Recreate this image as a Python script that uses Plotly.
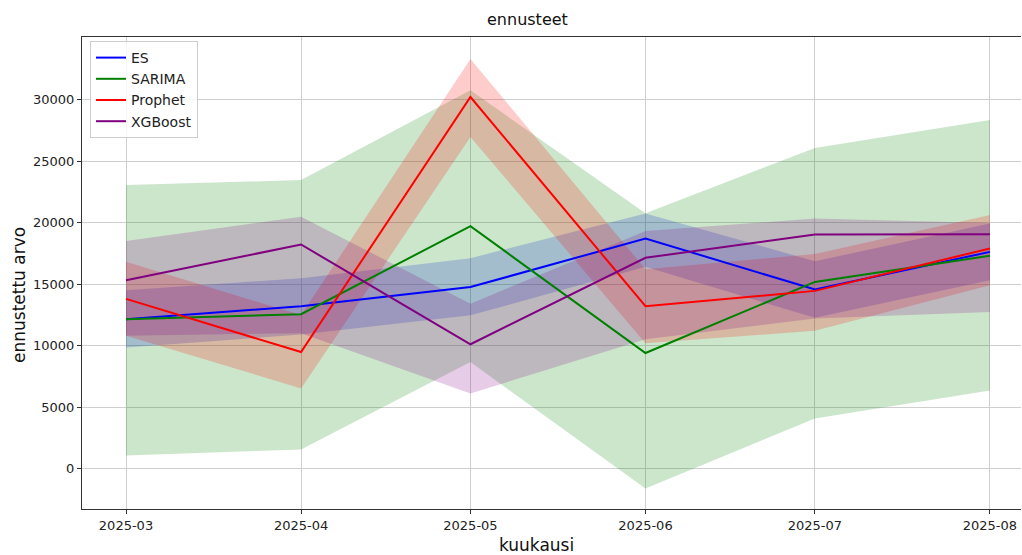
import plotly.graph_objects as go

# Forecast months
months = ["2025-03-01", "2025-04-01", "2025-05-01", "2025-06-01", "2025-07-01", "2025-08-01"]
tick_labels = ["2025-03", "2025-04", "2025-05", "2025-06", "2025-07", "2025-08"]
y_ticks = [0, 5000, 10000, 15000, 20000, 25000, 30000]

# Exponential smoothing
es = [12130, 13190, 14750, 18700, 14550, 17610]
es_lo = [9830, 10890, 12450, 16400, 12250, 15310]
es_hi = [14500, 15470, 17100, 20740, 16850, 19910]

# SARIMA
sarima = [12130, 12540, 19700, 9390, 15170, 17290]
sarima_lo = [1060, 1550, 8650, -1630, 4070, 6350]
sarima_hi = [23050, 23450, 30750, 20750, 26060, 28340]

# Prophet
prophet = [13790, 9470, 30200, 13190, 14440, 17890]
prophet_lo = [10790, 6510, 26950, 10180, 11200, 14900]
prophet_hi = [16800, 12470, 33300, 16200, 17440, 20600]

# XGBoost
xgb = [15300, 18210, 10100, 17130, 19030, 19050]
xgb_lo = [10800, 11000, 6100, 10500, 12190, 12730]
xgb_hi = [18500, 20460, 13400, 19300, 20330, 19950]

models = [
    ("ES", es, es_lo, es_hi, "#0000ff", "rgba(0,0,255,0.2)"),
    ("SARIMA", sarima, sarima_lo, sarima_hi, "#008000", "rgba(0,128,0,0.2)"),
    ("Prophet", prophet, prophet_lo, prophet_hi, "#ff0000", "rgba(255,0,0,0.2)"),
    ("XGBoost", xgb, xgb_lo, xgb_hi, "#800080", "rgba(128,0,128,0.2)"),
]

FONT = "DejaVu Sans"
W, H = 1022, 555
L, R, T, B = 82, 1, 37, 46
pw, ph = W - L - R, H - T - B

fig = go.Figure()

# Confidence bands go underneath every forecast line
for name, mid, lo, hi, line_col, fill_col in models:
    fig.add_trace(go.Scatter(
        x=months + months[::-1], y=hi + lo[::-1],
        mode="lines", fill="toself", fillcolor=fill_col,
        line=dict(width=0, color=fill_col), showlegend=False, hoverinfo="skip",
    ))

for name, mid, lo, hi, line_col, fill_col in models:
    fig.add_trace(go.Scatter(
        x=months, y=mid, mode="lines", name=name,
        line=dict(color=line_col, width=2),
    ))

fig.update_layout(
    width=W, height=H,
    margin=dict(l=L, r=R, t=T, b=B),
    paper_bgcolor="white", plot_bgcolor="white",
    font=dict(family=FONT, size=14, color="#222222"),
    showlegend=True,
    legend=dict(
        x=(90 - L) / pw, y=(H - B - 41) / ph, xanchor="left", yanchor="top",
        bgcolor="rgba(255,255,255,0.8)", bordercolor="#cccccc", borderwidth=1,
        font=dict(family=FONT, size=14, color="#222222"),
        tracegroupgap=0,
    ),
    xaxis=dict(
        type="date",
        range=["2025-02-21 05:00", "2025-08-06 12:00"],
        tickvals=months, ticktext=tick_labels,
        showgrid=True, gridcolor="#cfcfcf", gridwidth=1,
        showline=True, linecolor="#333333", linewidth=1, mirror=True,
        ticks="outside", ticklen=4, tickcolor="#333333",
        tickfont=dict(family=FONT, size=13, color="#222222"),
        zeroline=False,
    ),
    yaxis=dict(
        range=[-3293, 35081],
        tickvals=y_ticks, ticktext=[str(v) for v in y_ticks],
        showgrid=True, gridcolor="#cfcfcf", gridwidth=1,
        showline=True, linecolor="#333333", linewidth=1, mirror=False,
        ticks="outside", ticklen=4, tickcolor="#333333",
        tickfont=dict(family=FONT, size=13, color="#222222"),
        zeroline=False,
    ),
    annotations=[
        dict(text="ennusteet", xref="paper", yref="paper",
             x=(527 - L) / pw, y=(H - B - 19) / ph, xanchor="center", yanchor="middle",
             showarrow=False, font=dict(family=FONT, size=16, color="#111111")),
        dict(text="kuukausi", xref="paper", yref="paper",
             x=(536 - L) / pw, y=(H - B - 545) / ph, xanchor="center", yanchor="middle",
             showarrow=False, font=dict(family=FONT, size=17, color="#111111")),
        dict(text="ennustettu arvo", xref="paper", yref="paper",
             x=(19 - L) / pw, y=(H - B - 295) / ph, xanchor="center", yanchor="middle",
             textangle=-90, showarrow=False,
             font=dict(family=FONT, size=17, color="#111111")),
    ],
)

fig.write_html("out.html")
